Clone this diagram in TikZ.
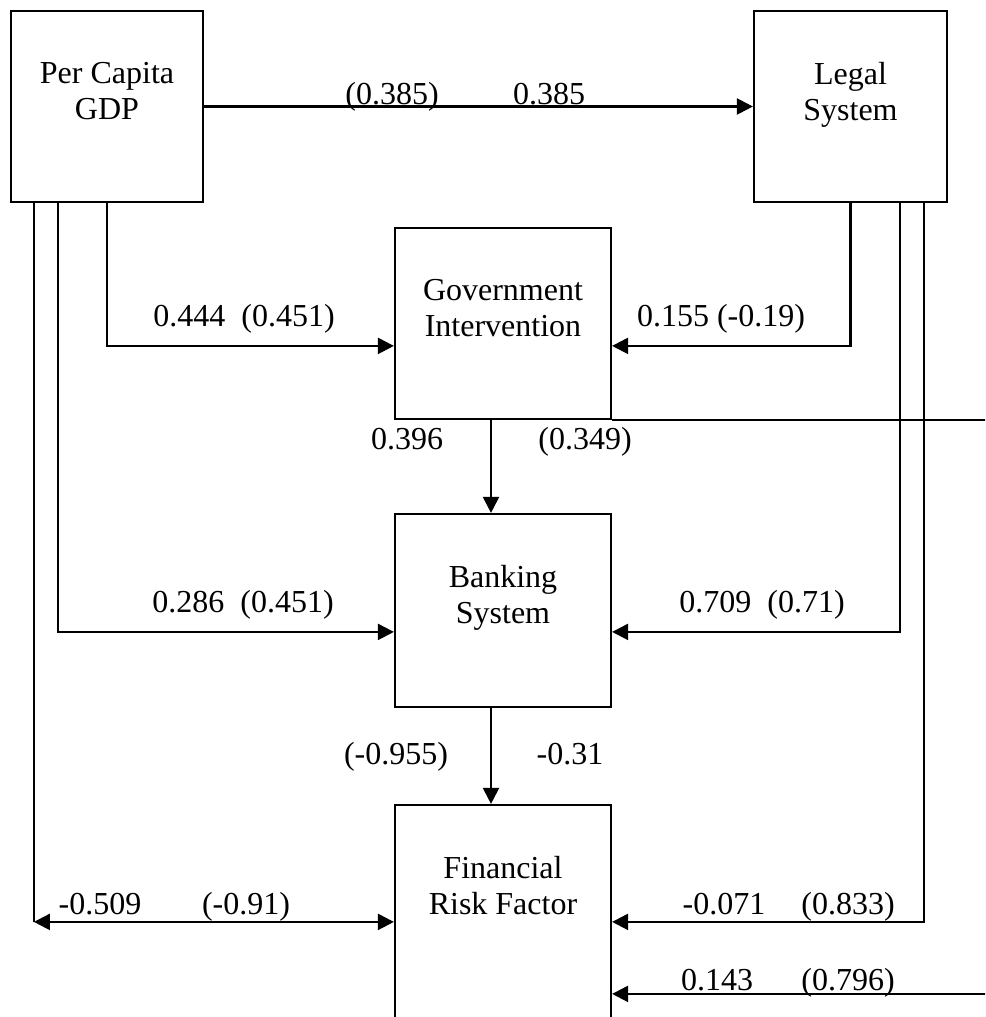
\documentclass[tikz,border=0pt]{standalone}
\usepackage{fontspec}
\setmainfont{Liberation Serif}
\usetikzlibrary{arrows.meta,positioning,calc}
\tikzset{
  box/.style={
    rectangle, draw=black, line width=2.2pt,
    minimum width=216pt, minimum height=191pt, inner sep=0pt
  },
  boxtext/.style={align=center, anchor=north, inner sep=0pt,
    font=\fontsize{32}{36}\selectfont},
  lbl/.style={anchor=base, inner sep=0pt, font=\fontsize{32}{36}\selectfont},
  link/.style={line width=2.2pt, draw=black},
  flow/.style={link, -{Triangle[length=16pt,width=16pt]}},
  both/.style={link, {Triangle[length=16pt,width=16pt]}-{Triangle[length=16pt,width=16pt]}}
}

\begin{document}
\begin{tikzpicture}[x=1pt, y=-1pt]
  \useasboundingbox (0,0) rectangle (985,1017);
  \clip (0,0) rectangle (985,1017);

  % factor boxes
  \node[box, minimum width=192pt]    (gdp)   at (107,106.5)  {};
  \node[box, minimum width=193pt]    (legal) at (850.5,106.5) {};
  \node[box]                         (gov)   at (503,323.5)  {};
  \node[box, minimum height=193pt]   (bank)  at (503,610.5)  {};
  \node[box, minimum height=400pt]   (frf)   at (503,1005)   {};

  \node[boxtext] (gdptxt)   at ([yshift=-52pt]gdp.north)   {Per Capita\\GDP};
  \node[boxtext] (legaltxt) at ([yshift=-52pt]legal.north) {Legal\\System};
  \node[boxtext] (govtxt)   at ([yshift=-52pt]gov.north)   {Government\\Intervention};
  \node[boxtext] (banktxt)  at ([yshift=-52pt]bank.north)  {Banking\\System};
  \node[boxtext] (frftxt)   at ([yshift=-52pt]frf.north)   {Financial\\Risk Factor};

  % entry points
  \coordinate (govL)  at ($(gov.north west)+(0,119)$);
  \coordinate (govR)  at ($(gov.north east)+(0,119)$);
  \coordinate (bankL) at ($(bank.north west)+(0,119)$);
  \coordinate (bankR) at ($(bank.north east)+(0,119)$);
  \coordinate (frfL)  at ($(frf.north west)+(0,118)$);
  \coordinate (frfR)  at ($(frf.north east)+(0,118)$);
  \coordinate (frfR2) at ($(frf.north east)+(0,190)$);
  \coordinate (gdpA)  at ($(gdp.south west)+(24,0)$);
  \coordinate (gdpB)  at ($(gdp.south west)+(48,0)$);
  \coordinate (legA)  at ($(legal.south east)+(-48,0)$);
  \coordinate (legB)  at ($(legal.south east)+(-24,0)$);
  \coordinate (offR)  at ($(gov.south east)+(390,0)$);
  \coordinate (gdpC)  at (gdpA |- frfL);

  % arrows
  \draw[flow] (gdp.east) -- (legal.west);
  \draw[flow] (gdp.south) |- (govL);
  \draw[flow] (legal.south) |- (govR);
  \draw[flow] ($(gov.south)+(-12,0)$) -- ($(bank.north)+(-12,0)$);
  \draw[flow] (gdpB) |- (bankL);
  \draw[flow] (legA) |- (bankR);
  \draw[flow] ($(bank.south)+(-12,0)$) -- ($(frf.north)+(-12,0)$);
  \draw[link] (gdpA) -- (gdpC);
  \draw[both] (gdpC) -- (frfL);
  \draw[flow] (legB) |- (frfR);
  \draw[flow] (gov.south east) -- (offR) |- (frfR2);

  % coefficients
  \node[lbl] (l1)  at (392,104) {(0.385)};
  \node[lbl] (l2)  at (549,104) {0.385};
  \node[lbl] (l3)  at (244,326) {0.444\ \ (0.451)};
  \node[lbl] (l4)  at (721,326) {0.155 (-0.19)};
  \node[lbl] (l5)  at (407,449) {0.396};
  \node[lbl] (l6)  at (585,449) {(0.349)};
  \node[lbl] (l7)  at (243,612) {0.286\ \ (0.451)};
  \node[lbl] (l8)  at (762,612) {0.709\ \ (0.71)};
  \node[lbl] (l9)  at (396,764) {(-0.955)};
  \node[lbl] (l10) at (570,764) {-0.31};
  \node[lbl] (l11) at (100,914) {-0.509};
  \node[lbl] (l12) at (246,914) {(-0.91)};
  \node[lbl] (l13) at (724,914) {-0.071};
  \node[lbl] (l14) at (848,914) {(0.833)};
  \node[lbl] (l15) at (717,990) {0.143};
  \node[lbl] (l16) at (848,990) {(0.796)};
\end{tikzpicture}
\end{document}
